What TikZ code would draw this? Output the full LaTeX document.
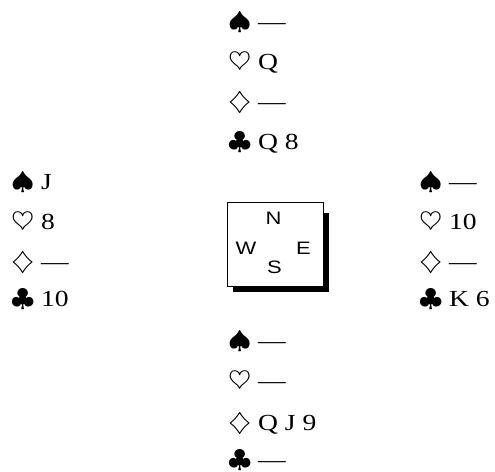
\documentclass[tikz,border=0pt]{standalone}
\usepackage{fontspec}
\setmainfont{Liberation Serif}
\setsansfont{Liberation Sans}
\usetikzlibrary{backgrounds}

\begin{document}
\begin{tikzpicture}[x=1pt, y=1pt]

% ---- Define Styles ----
\tikzset{
  handrow/.style={
    anchor=base west, inner sep=0pt, outer sep=0pt, xscale=1.2,
    font=\fontsize{23}{26}\selectfont
  },
  compassbox/.style={
    draw=black, line width=0.6pt, fill=white,
    minimum width=96pt, minimum height=84pt, inner sep=0pt
  },
  seat/.style={
    inner sep=0pt, xscale=1.22, font=\fontsize{18}{20}\selectfont\sffamily
  }
}

\useasboundingbox (0,0) rectangle (495,471);

% =========================================================
% NORTH
% =========================================================
\node[handrow] (ns) at (228, 441) {$\spadesuit$ —};
\node[handrow] (nh) at (228, 401) {$\heartsuit$ Q};
\node[handrow] (nd) at (228, 361) {$\diamondsuit$ —};
\node[handrow] (nc) at (228, 321) {$\clubsuit$ Q 8};

% =========================================================
% WEST
% =========================================================
\node[handrow] (ws) at (11, 281) {$\spadesuit$ J};
\node[handrow] (wh) at (11, 241) {$\heartsuit$ 8};
\node[handrow] (wd) at (11, 201) {$\diamondsuit$ —};
\node[handrow] (wc) at (11, 164) {$\clubsuit$ 10};

% =========================================================
% EAST
% =========================================================
\node[handrow] (es) at (419, 281) {$\spadesuit$ —};
\node[handrow] (eh) at (419, 241) {$\heartsuit$ 10};
\node[handrow] (ed) at (419, 201) {$\diamondsuit$ —};
\node[handrow] (ec) at (419, 164) {$\clubsuit$ K 6};

% =========================================================
% SOUTH
% =========================================================
\node[handrow] (ss) at (228, 122) {$\spadesuit$ —};
\node[handrow] (sh) at (228, 82)  {$\heartsuit$ —};
\node[handrow] (sd) at (228, 40)  {$\diamondsuit$ Q J 9};
\node[handrow] (sc) at (228, 4)   {$\clubsuit$ —};

% =========================================================
% COMPASS BOX with shadow
% =========================================================
\node[compassbox] (box) at (275, 227) {};
\begin{scope}[on background layer]
  \fill[black] ([shift={(6,-6)}]box.south west) rectangle ([shift={(6,-11)}]box.north east);
\end{scope}

\node[seat] (n) at (273.5, 252.5) {N};
\node[seat] (w) at (246, 222.5) {W};
\node[seat] (e) at (303.5, 222.5) {E};
\node[seat] (s) at (274.5, 203.5) {S};

\end{tikzpicture}
\end{document}
